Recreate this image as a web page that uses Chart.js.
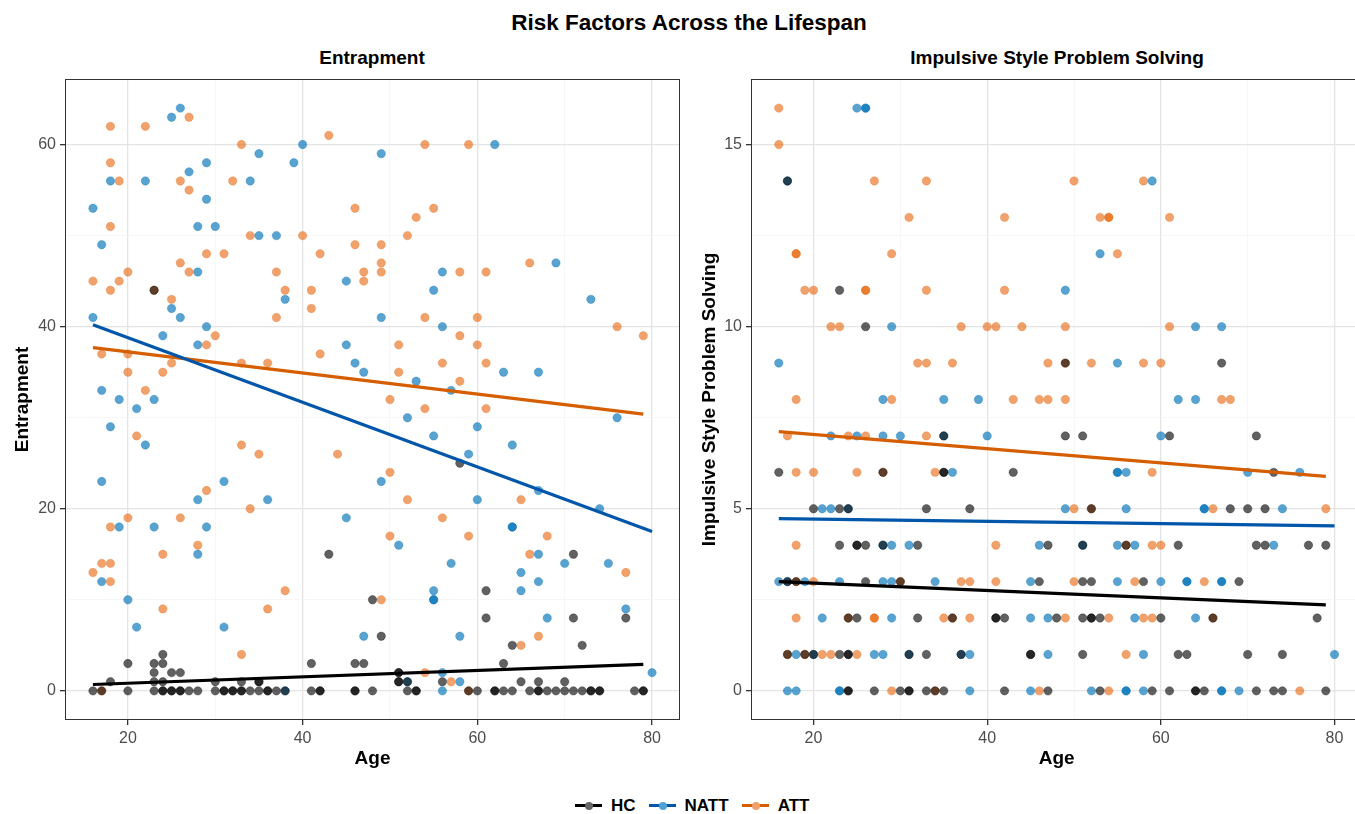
<!DOCTYPE html>
<html>
<head>
<meta charset="utf-8">
<script src="https://cdn.jsdelivr.net/npm/chart.js@4.4.1/dist/chart.umd.min.js"></script>
<style>
  body { margin: 0; width: 1355px; height: 814px; overflow: hidden; background: #fff; position: relative;
         font-family: "Liberation Sans", Arial, sans-serif; }
  .t { position: absolute; font-weight: bold; color: #000; white-space: nowrap; transform: translateX(-50%); line-height: 1; }
  #title { left: 689px; top: 12px; font-size: 22.5px; }
  #sub1 { left: 372px; top: 48px; font-size: 19px; }
  #sub2 { left: 1057px; top: 48px; font-size: 19px; }
  canvas { position: absolute; top: 70px; }
  #c1 { left: 0; }
  #c2 { left: 690px; }
  #legend { position: absolute; left: 575px; top: 797px; display: flex; align-items: center; font-weight: bold; font-size: 17px; line-height: 1; }
  .item { display: flex; align-items: center; margin-right: 13px; }
  .sym { position: relative; width: 27px; height: 3px; margin-right: 9px; }
  .sym i { position: absolute; left: 10px; top: -2.5px; width: 8px; height: 8px; border-radius: 50%; }
</style>
</head>
<body>
<div class="t" id="title">Risk Factors Across the Lifespan</div>
<div class="t" id="sub1">Entrapment</div>
<div class="t" id="sub2">Impulsive Style Problem Solving</div>
<canvas id="c1" width="690" height="720"></canvas>
<canvas id="c2" width="677" height="720"></canvas>
<div id="legend">
  <div class="item"><span class="sym" style="background:#000"><i style="background:#666"></i></span>HC</div>
  <div class="item"><span class="sym" style="background:#0057AA"><i style="background:#4fa2d8"></i></span>NATT</div>
  <div class="item"><span class="sym" style="background:#D55E00"><i style="background:#f0a06c"></i></span>ATT</div>
</div>
<script>
// axis breaks
const ageTicks = [20, 40, 60, 80];
const ageMinor = [30, 50, 70];
const entTicks = [0, 20, 40, 60];
const entMinor = [10, 30, 50];
const ipsTicks = [0, 5, 10, 15];
const ipsMinor = [2.5, 7.5, 12.5];

// Entrapment panel, [age, score]
const entHC = [[23,44],[43,15],[48,10],[49,6],[24,4],[20,3],[23,3],[24,3],[41,3],[46,3],[47,3],[23,2],[25,2],[26,2],
  [18,1],[23,1],[24,1],[30,1],[33,1],[35,1],[35,1],
  [16,0],[17,0],[20,0],[23,0],[24,0],[24,0],[25,0],[25,0],[26,0],[26,0],[27,0],[28,0],[30,0],[31,0],[31,0],[32,0],[32,0],
  [33,0],[33,0],[34,0],[35,0],[36,0],[36,0],[37,0],[38,0],[41,0],[42,0],[42,0],[46,0],[46,0],[48,0],
  [58,25],[71,15],[61,11],[61,8],[71,8],[77,8],[64,5],[72,5],[63,3],[51,2],[51,2],[51,1],[51,1],[52,1],[56,1],[65,1],[67,1],[70,1],
  [52,0],[53,0],[53,0],[59,0],[60,0],[62,0],[62,0],[63,0],[64,0],[66,0],[67,0],[67,0],[68,0],[69,0],[70,0],[71,0],[72,0],
  [73,0],[73,0],[74,0],[74,0],[78,0],[79,0],[79,0]];
const entNATT = [[25,63],[26,64],[35,59],[39,58],[40,60],[49,59],[18,56],[22,56],[27,57],[29,58],[34,56],[29,54],[16,53],
  [28,51],[30,51],[17,49],[35,50],[37,50],[28,46],[38,43],[45,45],[25,42],[26,41],[16,41],[49,41],[29,40],[24,39],[28,38],
  [45,38],[46,36],[47,35],[17,33],[19,32],[23,32],[21,31],[18,29],[22,27],[17,23],[31,23],[49,23],[28,21],[36,21],[45,19],
  [19,18],[23,18],[29,18],[28,15],[17,12],[20,10],[21,7],[31,7],[47,6],[38,0],
  [62,60],[56,46],[69,47],[55,44],[73,43],[56,40],[63,35],[67,35],[53,34],[57,33],
  [52,30],[76,30],[60,29],[55,28],[64,27],[59,26],[60,21],[67,22],[74,20],[64,18],[64,18],[51,16],[67,15],[57,14],[70,14],
  [75,14],[65,13],[67,12],[65,11],[55,11],[55,10],[55,10],[77,9],[68,8],[58,6],[56,2],[52,1],[58,1],[80,2],[56,0]];
const entATT = [[18,62],[22,62],[27,63],[33,60],[43,61],[18,58],[19,56],[26,56],[27,55],[32,56],[46,53],[18,51],[34,50],
  [40,50],[29,48],[31,48],[42,48],[46,49],[49,49],[49,47],[49,46],[26,47],[27,46],[20,46],[16,45],[19,45],[18,44],[23,44],
  [37,46],[38,44],[41,44],[41,42],[47,46],[47,45],[25,43],[37,41],[30,39],[29,38],[17,37],[20,37],[42,37],[25,36],[33,36],
  [36,36],[20,35],[24,35],[22,33],[21,28],[33,27],[35,26],[44,26],[29,22],[34,20],[20,19],[26,19],[18,18],[28,16],[24,15],
  [17,14],[18,14],[16,13],[18,12],[38,11],[49,10],[24,9],[36,9],[33,4],[17,0],
  [54,60],[59,60],[55,53],[53,52],[52,50],[58,46],[61,46],[66,47],[54,41],[60,41],[76,40],[79,39],[58,39],[51,38],[60,38],
  [56,36],[61,36],[51,35],[58,34],[50,32],[54,31],[61,31],[50,24],[52,21],[65,21],[56,19],[50,17],[59,17],[68,17],[66,15],
  [77,13],[67,6],[65,5],[54,2],[57,1],[59,0]];

// Impulsive Style Problem Solving panel, [age, score]
const ipsHC = [[17,14],[23,11],[26,10],[49,9],[67,9],[35,7],[16,6],[28,6],[35,6],[35,6],[43,6],
  [20,5],[23,5],[24,5],[33,5],[38,5],[23,4],[25,4],[25,4],[26,4],[28,4],[32,4],[47,4],
  [17,3],[18,3],[26,3],[30,3],[46,3],[24,2],[25,2],[32,2],[36,2],[41,2],[41,2],[42,2],[48,2],
  [17,1],[19,1],[20,1],[23,1],[24,1],[24,1],[31,1],[33,1],[37,1],[45,1],[45,1],
  [24,0],[24,0],[27,0],[30,0],[31,0],[31,0],[33,0],[34,0],[35,0],[42,0],[47,0],
  [49,7],[51,7],[61,7],[71,7],[73,6],[52,5],[68,5],[70,5],[72,5],[51,4],[56,4],[62,4],[71,4],[72,4],[77,4],[79,4],
  [51,3],[52,3],[58,3],[69,3],[51,2],[52,2],[52,2],[53,2],[60,2],[66,2],[78,2],[51,1],[62,1],[63,1],[70,1],[74,1],
  [53,0],[59,0],[61,0],[64,0],[64,0],[65,0],[71,0],[73,0],[74,0],[79,0]];
const ipsNATT = [[25,16],[26,16],[26,16],[17,14],[29,10],[16,9],[28,8],[35,8],[39,8],
  [59,14],[53,12],[49,11],[64,10],[67,10],[55,9],[62,8],[64,8],
  [22,7],[25,7],[28,7],[30,7],[35,7],[40,7],[36,6],[21,5],[22,5],[24,5],[28,4],[29,4],[31,4],[46,4],
  [16,3],[17,3],[19,3],[23,3],[28,3],[29,3],[34,3],[45,3],[21,2],[29,2],[45,2],[47,2],
  [18,1],[20,1],[27,1],[28,1],[31,1],[37,1],[38,1],[47,1],[17,0],[18,0],[23,0],[23,0],[38,0],[45,0],
  [60,7],[55,6],[55,6],[56,6],[70,6],[76,6],[49,5],[56,5],[65,5],[65,5],[74,5],[51,4],[55,4],[57,4],[73,4],
  [55,3],[60,3],[63,3],[63,3],[67,3],[67,3],[57,2],[64,2],[58,1],[80,1],
  [52,0],[56,0],[56,0],[58,0],[67,0],[67,0],[69,0]];
const ipsATT = [[16,16],[16,15],[27,14],[33,14],[31,13],[42,13],[18,12],[18,12],[29,12],[19,11],[20,11],[26,11],[26,11],
  [33,11],[42,11],[22,10],[23,10],[37,10],[40,10],[41,10],[44,10],[32,9],[33,9],[36,9],[47,9],
  [18,8],[29,8],[43,8],[46,8],[47,8],
  [50,14],[58,14],[53,13],[54,13],[54,13],[61,13],[55,12],[49,10],[61,10],[49,9],[52,9],[58,9],[60,9],[49,8],[67,8],[68,8],
  [17,7],[24,7],[26,7],[33,7],[18,6],[20,6],[25,6],[28,6],[34,6],[18,4],[41,4],
  [18,3],[20,3],[30,3],[37,3],[38,3],[41,3],[18,2],[24,2],[27,2],[27,2],[35,2],[36,2],[38,2],
  [17,1],[19,1],[21,1],[22,1],[25,1],[29,0],[34,0],[46,0],
  [59,6],[50,5],[52,5],[66,5],[79,5],[56,4],[59,4],[60,4],[50,3],[57,3],[65,3],[49,2],[54,2],[58,2],[59,2],[66,2],
  [56,1],[54,0],[76,0]];

// fitted lines, end points
const entFitHC = [[16, 0.7], [79, 2.9]];
const entFitNATT = [[16, 40.2], [80, 17.5]];
const entFitATT = [[16, 37.7], [79, 30.4]];
const ipsFitHC = [[16, 3.0], [79, 2.36]];
const ipsFitNATT = [[16, 4.73], [80, 4.53]];
const ipsFitATT = [[16, 7.12], [79, 5.89]];

Chart.defaults.font.family = '"Liberation Sans", Arial, sans-serif';
Chart.defaults.animation = false;

const COL = {
  hc: 'rgba(0, 0, 0, 0.62)',
  natt: 'rgba(0, 114, 185, 0.65)',
  att: 'rgba(232, 100, 10, 0.6)'
};

const frame = {
  id: 'frame',
  afterDraw(chart) {
    const { ctx, chartArea: a } = chart;
    ctx.save();
    ctx.strokeStyle = '#333';
    ctx.lineWidth = 1;
    ctx.strokeRect(a.left + 0.5, a.top + 0.5, a.right - a.left - 1, a.bottom - a.top - 1);
    ctx.restore();
  }
};

function axis(major, minor, min, max, title, size, pad) {
  const all = major.concat(minor).sort((a, b) => a - b);
  const isMajor = c => c.tick && major.includes(c.tick.value);
  return {
    type: 'linear', min: min, max: max,
    afterBuildTicks: s => { s.ticks = all.map(v => ({ value: v })); },
    afterFit: s => {
      // fixed box sizes, and no extra room for end labels
      if (s.isHorizontal()) { s.height = size; s.paddingLeft = 0; s.paddingRight = 0; }
      else { s.width = size; s.paddingTop = 0; s.paddingBottom = 0; }
    },
    ticks: {
      autoSkip: false, maxRotation: 0, padding: 4, color: '#4D4D4D', font: { size: 16 },
      callback: v => major.includes(v) ? v : ''
    },
    grid: {
      color: c => isMajor(c) ? '#E4E4E4' : '#F3F3F3',
      lineWidth: c => isMajor(c) ? 1.3 : 0.7,
      tickLength: 5,
      tickColor: c => isMajor(c) ? '#333' : 'rgba(0,0,0,0)'
    },
    border: { display: false },
    title: { display: true, text: title, color: '#000', font: { size: 19, weight: 'bold' }, padding: pad }
  };
}

function points(pairs, color) {
  return {
    data: pairs.map(p => ({ x: p[0], y: p[1] })),
    backgroundColor: color, borderColor: color, borderWidth: 0.5,
    pointRadius: 4.2, order: 2
  };
}

function fit(pairs, color) {
  return {
    data: pairs.map(p => ({ x: p[0], y: p[1] })),
    showLine: true, borderColor: color, borderWidth: 3.2, pointRadius: 0, order: 1
  };
}

function panel(id, hc, natt, att, fits, yTicks, yMinor, yMin, yMax, yTitle, yWidth, yPad, padRight) {
  return new Chart(document.getElementById(id), {
    type: 'scatter',
    data: {
      datasets: [
        points(hc, COL.hc), points(natt, COL.natt), points(att, COL.att),
        fit(fits[0], '#000000'), fit(fits[1], '#0057AA'), fit(fits[2], '#D55E00')
      ]
    },
    options: {
      responsive: false,
      layout: { padding: { top: 9, bottom: 16, left: 0, right: padRight } },
      plugins: { legend: { display: false }, tooltip: { enabled: false } },
      scales: {
        x: axis(ageTicks, ageMinor, 12.8, 83.2, 'Age', 54, { top: 4, bottom: 4 }),
        y: axis(yTicks, yMinor, yMin, yMax, yTitle, yWidth, { top: yPad, bottom: 4 })
      }
    },
    plugins: [frame]
  });
}

panel('c1', entHC, entNATT, entATT, [entFitHC, entFitNATT, entFitATT],
  entTicks, entMinor, -3.2, 67.2, 'Entrapment', 65, 11, 10);
panel('c2', ipsHC, ipsNATT, ipsATT, [ipsFitHC, ipsFitNATT, ipsFitATT],
  ipsTicks, ipsMinor, -0.8, 16.8, 'Impulsive Style Problem Solving', 61, 8, 3);
</script>
</body>
</html>
